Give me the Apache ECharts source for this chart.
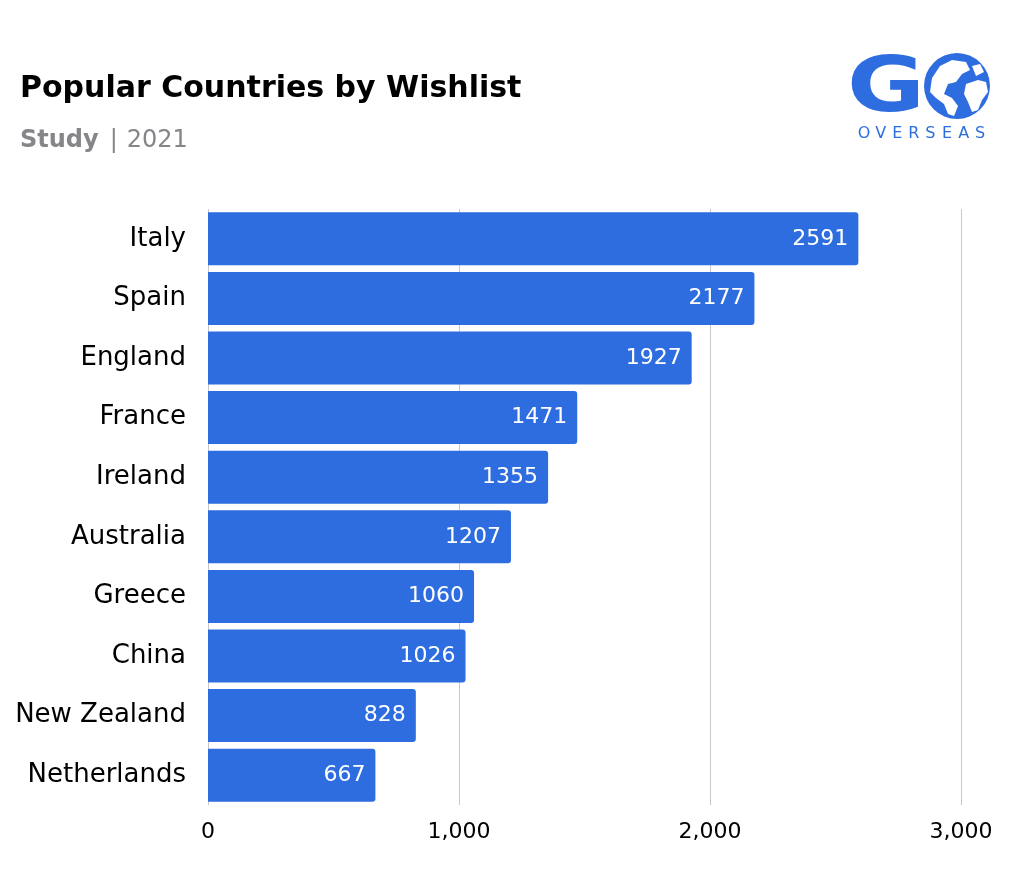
<!DOCTYPE html>
<html><head><meta charset="utf-8">
<script src="https://cdn.jsdelivr.net/npm/echarts@6/dist/echarts.min.js"></script>
<style>html,body{margin:0;padding:0;background:#fff}#c{width:1014px;height:871px}</style>
</head><body><div id="c"></div>
<script>
const categories = ['Italy','Spain','England','France','Ireland','Australia','Greece','China','New Zealand','Netherlands'];
const values = [2591,2177,1927,1471,1355,1207,1060,1026,828,667];
const xTicks = [0,1000,2000,3000];

const chart = echarts.init(document.getElementById('c'));
const blue = '#2e6ddf';
const F = 'DejaVu Sans';
const letters = 'OVERSEAS'.split('');
const letterGraphics = letters.map((ch,i)=>({type:'text',x:864+i*16.6,y:134,
  style:{text:ch,font:'16px "DejaVu Sans"',fill:blue,textAlign:'center',textVerticalAlign:'middle'}}));
chart.setOption({
  backgroundColor:'#fff',
  animation:false,
  grid:{left:208,right:53,top:209,height:596},
  title:[
    {text:'Popular Countries by Wishlist',left:15,top:69,textStyle:{fontFamily:F,fontWeight:'bold',fontSize:30,color:'#000'}},
    {text:'{b|Study}{s||}{n|2021}',left:15,top:124,textStyle:{fontWeight:'normal',rich:{
      b:{fontFamily:F,fontWeight:'bold',fontSize:24,color:'#85858a'},
      s:{fontFamily:F,fontWeight:'normal',fontSize:24,color:'#85858a',padding:[0,9,0,11]},
      n:{fontFamily:F,fontWeight:'normal',fontSize:24,color:'#85858a'}}}}
  ],
  xAxis:{type:'value',min:0,max:3000,interval:1000,
    axisLine:{show:false},axisTick:{show:false},
    splitLine:{lineStyle:{color:'#c8c8c8',width:1}},
    axisLabel:{margin:16,fontFamily:F,fontSize:22,color:'#000',
      formatter:v=>xTicks.includes(v)?v.toLocaleString('en-US'):''}},
  yAxis:{type:'category',data:categories,inverse:true,
    axisLine:{show:false},axisTick:{show:false},
    axisLabel:{margin:22,fontFamily:F,fontSize:26,color:'#000'}},
  series:[{type:'bar',data:values,barCategoryGap:'11%',
    itemStyle:{color:blue,borderRadius:[0,3,3,0]},
    label:{show:true,position:'insideRight',distance:10,color:'#fff',fontFamily:F,fontSize:22}}],
  graphic:[
    {type:'text',x:886,y:91,scaleX:1.25,style:{text:'G',font:'bold 76px "DejaVu Sans"',fill:blue,textAlign:'center',textVerticalAlign:'middle'}},
    {type:'circle',shape:{cx:957,cy:86,r:33},style:{fill:blue}},
    {type:'polygon',shape:{points:[[940,66],[952,60],[966,62],[970,70],[962,74],[956,82],[948,84],[944,94],[952,98],[958,106],[954,116],[948,114],[944,104],[936,98],[930,92],[932,78]]},style:{fill:'#fff'}},
    {type:'polygon',shape:{points:[[966,84],[978,80],[986,82],[988,92],[982,100],[978,110],[972,112],[968,102],[964,94]]},style:{fill:'#fff'}},
    {type:'polygon',shape:{points:[[972,66],[980,64],[984,72],[976,76]]},style:{fill:'#fff'}},
    ...letterGraphics
  ]
});
</script></body></html>
